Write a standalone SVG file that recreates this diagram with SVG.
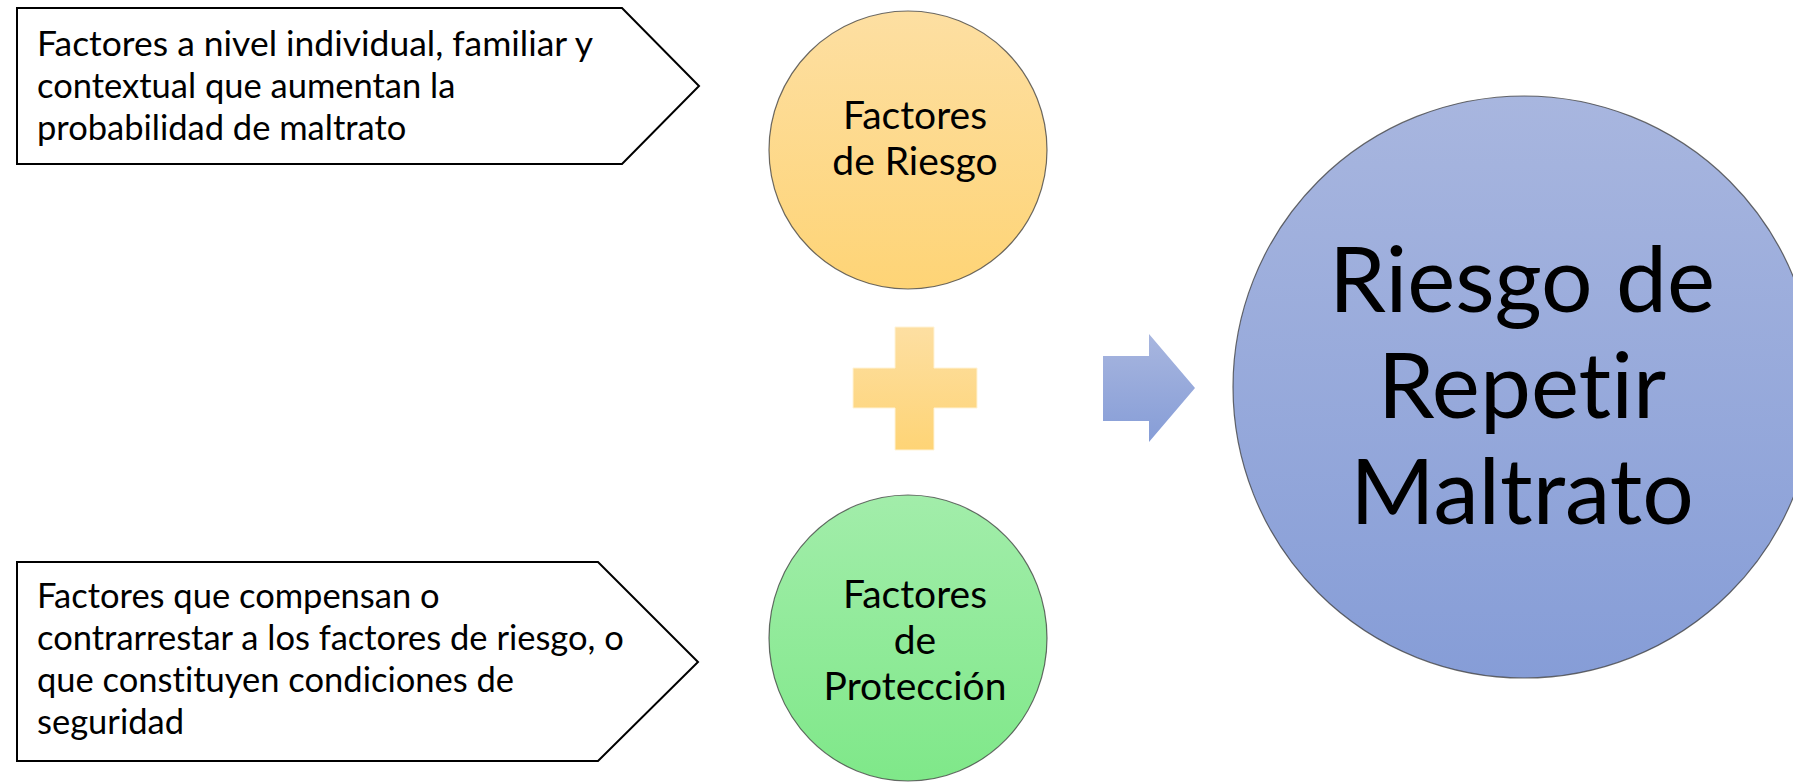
<svg xmlns="http://www.w3.org/2000/svg" width="1793" height="783" viewBox="0 0 1793 783">
<defs>
<linearGradient id="gOrange" x1="0" y1="0" x2="0" y2="1"><stop offset="0" stop-color="#FDDFA2"/><stop offset="1" stop-color="#FED476"/></linearGradient>
<linearGradient id="gGreen" x1="0" y1="0" x2="0" y2="1"><stop offset="0" stop-color="#A2EDAA"/><stop offset="1" stop-color="#7FE889"/></linearGradient>
<linearGradient id="gBlue" x1="0" y1="0" x2="0" y2="1"><stop offset="0" stop-color="#A8B6DF"/><stop offset="1" stop-color="#869DD7"/></linearGradient>
<style>
.pent{fill:#FFFFFF;stroke:#000000;stroke-width:2}
.circ{stroke:#3a3a3a;stroke-opacity:0.75;stroke-width:1.2}
.t{font-family:Lato,"Liberation Sans",sans-serif;fill:#000000;font-variant-ligatures:none}
.ts{font-size:34.5px}
.tm{font-size:39px;text-anchor:middle}
.tl{font-size:91px;text-anchor:middle}
</style>
</defs>
<rect width="1793" height="783" fill="#FFFFFF"/>
<g id="node-desc-riesgo">
<polygon class="pent" points="17,8 622,8 699,86 622,164 17,164"/>
<text class="t ts" x="37" y="56" textLength="556" lengthAdjust="spacingAndGlyphs">Factores a nivel individual, familiar y</text>
<text class="t ts" x="37" y="98">contextual que aumentan la</text>
<text class="t ts" x="37" y="140">probabilidad de maltrato</text>
</g>
<g id="node-desc-proteccion">
<polygon class="pent" points="17,562 598,562 698,662 598,761 17,761"/>
<text class="t ts" x="37" y="608">Factores que compensan o</text>
<text class="t ts" x="37" y="650">contrarrestar a los factores de riesgo, o</text>
<text class="t ts" x="37" y="692">que constituyen condiciones de</text>
<text class="t ts" x="37" y="734">seguridad</text>
</g>
<g id="node-factores-riesgo">
<circle class="circ" cx="908" cy="150" r="139" fill="url(#gOrange)"/>
<text class="t tm" x="915" y="129">Factores</text>
<text class="t tm" x="915" y="175">de Riesgo</text>
</g>
<g id="node-factores-proteccion">
<ellipse class="circ" cx="908" cy="638" rx="139" ry="143" fill="url(#gGreen)"/>
<text class="t tm" x="915" y="608">Factores</text>
<text class="t tm" x="915" y="654">de</text>
<text class="t tm" x="915" y="700">Protección</text>
</g>
<g id="node-resultado">
<circle class="circ" cx="1524" cy="387" r="291" fill="url(#gBlue)"/>
<text class="t tl" x="1522" y="312">Riesgo de</text>
<text class="t tl" x="1522" y="418">Repetir</text>
<text class="t tl" x="1522" y="524">Maltrato</text>
</g>
<g id="connectors">
<polygon id="plus" points="895,327 934,327 934,368 977,368 977,408 934,408 934,450 895,450 895,408 853,408 853,368 895,368" fill="url(#gOrange)" stroke="#FFF3D6" stroke-width="1"/>
<polygon id="arrow" points="1103,356 1149,356 1149,334 1195,388 1149,442 1149,421 1103,421" fill="url(#gBlue)"/>
</g>
</svg>
